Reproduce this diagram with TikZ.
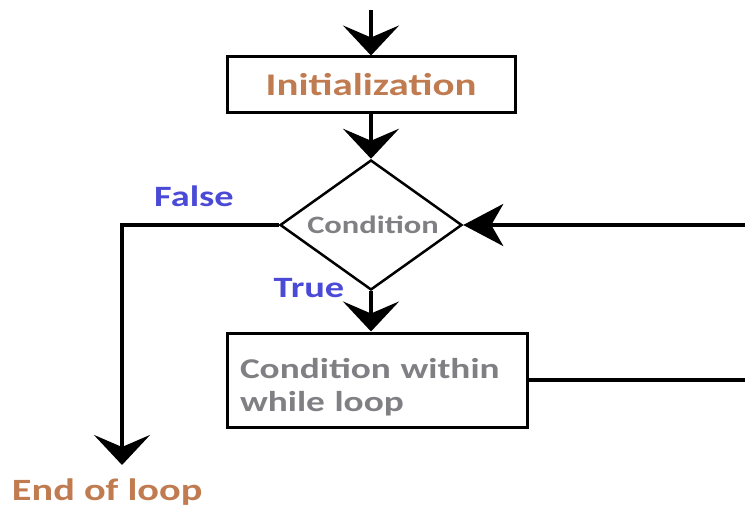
\documentclass[tikz,border=0pt]{standalone}
\usepackage{fontspec}
\setmainfont[FakeStretch=1.3]{Carlito}
\usepackage{tikz}
\usetikzlibrary{arrows.meta,positioning,shapes.geometric}

\definecolor{stepbrown}{RGB}{192,124,80}
\definecolor{stepgray}{RGB}{128,128,132}
\definecolor{branchblue}{RGB}{74,74,214}

\begin{document}
\begin{tikzpicture}[
    x=1pt, y=-1pt,
    line width=4pt,
    big arrow/.style={-{Stealth[length=30pt, width=56pt, inset=12pt]}},
    side arrow/.style={-{Stealth[length=40pt, width=42pt, inset=12pt]}},
    block/.style={rectangle, draw=black, line width=3pt, inner sep=0pt},
    decision/.style={diamond, draw=black, line width=2.5pt, inner xsep=-25pt, inner ysep=-10pt,
        minimum width=182pt, minimum height=130pt, font=\bfseries\fontsize{25}{28}\selectfont, text=stepgray},
    branch label/.style={font=\bfseries\fontsize{29.5}{32}\selectfont, text=branchblue}
]
    \useasboundingbox (0,0) rectangle (745,508);

    \coordinate (start) at (371,10);
    \node[block, minimum width=288pt, minimum height=56pt,
        font=\bfseries\fontsize{31.5}{34}\selectfont, text=stepbrown] (init) at (371,85) {Initialization};
    \node[decision] (cond) at (371,225) {\hspace*{4pt}Condition};
    \node[block, minimum width=300pt, minimum height=94pt, text width=274pt, align=left,
        font=\bfseries\fontsize{28.7}{33}\selectfont, text=stepgray] (body) at (377,380)
        {\rule{0pt}{34pt}Condition within\\while loop};
    \node[font=\bfseries\fontsize{31}{34}\selectfont, text=stepbrown, inner sep=0pt,
        anchor=base west] (loopend) at (10,500) {End of loop};

    \node[branch label] (false) at (194,196) {False};
    \node[branch label] (true) at (309,288) {True};

    \coordinate (turn) at (122,225);
    \coordinate (drop) at (122,465);
    \coordinate (backtop) at (745,225);
    \coordinate (backbot) at (745,380);

    \draw[big arrow] (start) -- (init);
    \draw[big arrow] (init) -- (cond);
    \draw[big arrow] (cond.south) -- (cond.south |- body.north);
    \draw[big arrow] (cond.west) -- (turn) -- (drop);
    \draw (body.east) -- (backbot);
    \draw[side arrow] (backtop) -- (cond.east);
\end{tikzpicture}
\end{document}
